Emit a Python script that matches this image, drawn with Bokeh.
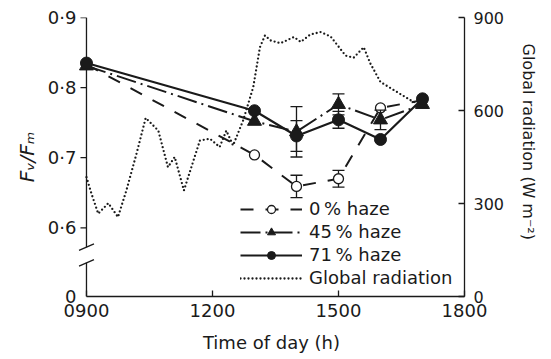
from bokeh.plotting import figure
from bokeh.models import (Range1d, LinearAxis, FixedTicker, CustomJSTickFormatter,
                          Legend, LegendItem, Title)
from bokeh.embed import file_html
from bokeh.resources import INLINE

# Time of day on an hhmm scale (0900 ... 1800)
times = [900, 1300, 1400, 1500, 1600, 1700]

# Fv/Fm under three haze levels, with standard errors (0 = no bar drawn)
haze0 = [0.833, 0.704, 0.659, 0.670, 0.771, 0.782]
haze0_err = [0, 0, 0.016, 0.012, 0, 0]
haze45 = [0.831, 0.752, 0.737, 0.776, 0.754, 0.776]
haze45_err = [0, 0, 0.036, 0.015, 0.014, 0]
haze71 = [0.835, 0.767, 0.731, 0.754, 0.726, 0.784]
haze71_err = [0, 0, 0.022, 0.012, 0, 0]

# Global radiation (W m-2) through the day
rad_times = [900, 912, 928, 952, 975, 995, 1019, 1041, 1071, 1094, 1110, 1132,
             1170, 1194, 1217, 1233, 1249, 1273, 1297, 1313, 1325, 1338, 1362,
             1394, 1410, 1433, 1457, 1481, 1517, 1536, 1560, 1576, 1600, 1640,
             1679, 1698]
radiation = [385, 331, 267, 301, 256, 342, 460, 576, 535, 417, 450, 342,
             503, 509, 482, 535, 487, 568, 675, 804, 842, 826, 817, 837,
             821, 845, 853, 839, 777, 770, 804, 751, 692, 659, 627, 630]

x_ticks = [900, 1200, 1500, 1800]
fv_ticks = [0.6, 0.7, 0.8, 0.9]
rad_ticks = [0, 300, 600, 900]

X0, X1 = 900, 1800
X_PAD = 19            # room left of 0900 so the hand-drawn left axis is not clipped
FV_BOTTOM, FV_TOP = 0.502, 0.9
BREAK_LO, BREAK_HI = 0.550, 0.5724

FONT = "DejaVu Sans"
FS = "18px"
INK = "#1a1a1a"

p = figure(width=551, height=359, output_backend="svg", toolbar_location=None,
           x_range=Range1d(X0 - X_PAD, X1), y_range=Range1d(FV_BOTTOM, FV_TOP),
           min_border_left=78, min_border_right=87, min_border_top=17,
           min_border_bottom=63)
p.outline_line_color = None
p.xgrid.visible = False
p.ygrid.visible = False
p.extra_y_ranges = {"rad": Range1d(0, 900)}

# data units per screen pixel (x: hhmm, y: Fv/Fm)
ux = (X1 - X0 + X_PAD) / 386
uy = (FV_TOP - FV_BOTTOM) / 279

# bottom axis
xa = p.xaxis[0]
xa.bounds = (X0, X1)
xa.ticker = FixedTicker(ticks=x_ticks)
xa.formatter = CustomJSTickFormatter(code="return String(tick).padStart(4, '0')")
xa.major_tick_in = 6
xa.major_tick_out = 0
xa.minor_tick_line_color = None
xa.major_label_standoff = 7
xa.axis_label = "Time of day (h)"
xa.axis_label_standoff = 12

# left axis: labels only; its line, ticks and break are drawn below
ya = p.yaxis[0]
ya.ticker = FixedTicker(ticks=[FV_BOTTOM] + fv_ticks)
ya.formatter = CustomJSTickFormatter(
    code="return tick < 0.55 ? '0' : tick.toFixed(1).replace('.', '\u00b7')")
ya.axis_line_color = None
ya.major_tick_line_color = None
ya.minor_tick_line_color = None
ya.major_tick_in = 0
ya.major_tick_out = 0
ya.major_label_standoff = 2
ya.axis_label = "F\u1d65/F\u2098"
ya.axis_label_standoff = 6

# right axis for radiation
ra = LinearAxis(y_range_name="rad", ticker=FixedTicker(ticks=rad_ticks))
ra.major_tick_in = 6
ra.major_tick_out = 0
ra.minor_tick_line_color = None
ra.major_label_standoff = 9
p.add_layout(ra, "right")

for ax in (xa, ya, ra):
    ax.axis_line_width = 1.3
    ax.major_tick_line_width = 1.3
    ax.major_label_text_font = FONT
    ax.major_label_text_font_size = FS
    ax.major_label_text_color = INK
    ax.axis_label_text_font = FONT
    ax.axis_label_text_font_size = FS
    ax.axis_label_text_color = INK
    ax.axis_label_text_font_style = "normal"
for ax in (xa, ra):
    ax.axis_line_color = INK
    ax.major_tick_line_color = INK
ra.major_label_text_font_size = "16px"
ya.axis_label_text_font_style = "italic"
ya.axis_label_text_font_size = "20px"

# right-hand axis title
p.add_layout(Title(text="Global radiation (W m\u207b\u00b2)", align="left", offset=26,
                   text_font=FONT, text_font_size="16px", text_font_style="normal",
                   text_color=INK, standoff=22), "right")

# left axis line with a break, its ticks and the two break slashes
p.segment([X0, X0], [FV_BOTTOM, BREAK_HI], [X0, X0], [BREAK_LO, FV_TOP],
          line_color=INK, line_width=1.3)
p.segment([X0 - 6 * ux] * len(fv_ticks), fv_ticks, [X0] * len(fv_ticks), fv_ticks,
          line_color=INK, line_width=1.3)
p.segment([X0 - 7.5 * ux] * 2, [BREAK_LO - 3.3 * uy, BREAK_HI - 3.3 * uy],
          [X0 + 7.5 * ux] * 2, [BREAK_LO + 3.3 * uy, BREAK_HI + 3.3 * uy],
          line_color=INK, line_width=1.3)

# global radiation (dotted, right axis)
rad_line = p.line(rad_times, radiation, y_range_name="rad", line_color=INK,
                  line_width=2.3, line_dash="0 4", line_cap="round")


def error_bars(ys, errs):
    xs = [t for t, e in zip(times, errs) if e > 0]
    lo = [y - e for y, e in zip(ys, errs) if e > 0]
    hi = [y + e for y, e in zip(ys, errs) if e > 0]
    p.segment(xs, lo, xs, hi, line_color=INK, line_width=1.3)
    p.scatter(xs + xs, lo + hi, marker="dash", size=12, line_color=INK, line_width=1.3)


# 0 % haze
l0 = p.line(times, haze0, line_color=INK, line_width=2, line_dash="13 12")
error_bars(haze0, haze0_err)
m0 = p.scatter(times, haze0, marker="circle", size=10, fill_color="white",
               line_color=INK, line_width=1.3)

# 45 % haze
l45 = p.line(times, haze45, line_color=INK, line_width=2, line_dash="20 5 2 5")
error_bars(haze45, haze45_err)
m45 = p.scatter(times, haze45, marker="triangle", size=14, fill_color=INK,
                line_color=INK)

# 71 % haze
l71 = p.line(times, haze71, line_color=INK, line_width=2.2)
error_bars(haze71, haze71_err)
m71 = p.scatter(times, haze71, marker="circle", size=12, fill_color=INK,
                line_color=INK)

legend = Legend(items=[
    LegendItem(label="0\u2009% haze", renderers=[l0, m0]),
    LegendItem(label="45\u2009% haze", renderers=[l45, m45]),
    LegendItem(label="71\u2009% haze", renderers=[l71, m71]),
    LegendItem(label="Global radiation", renderers=[rad_line]),
], location=(162, 8))
legend.border_line_color = None
legend.background_fill_alpha = 0
legend.label_text_font = FONT
legend.label_text_font_size = FS
legend.label_text_color = INK
legend.glyph_width = 62
legend.glyph_height = 20
legend.label_height = 20
legend.label_standoff = 7
legend.spacing = 2
legend.padding = 0
legend.margin = 0
p.add_layout(legend)

open("out.html", "w").write(file_html(p, INLINE))
